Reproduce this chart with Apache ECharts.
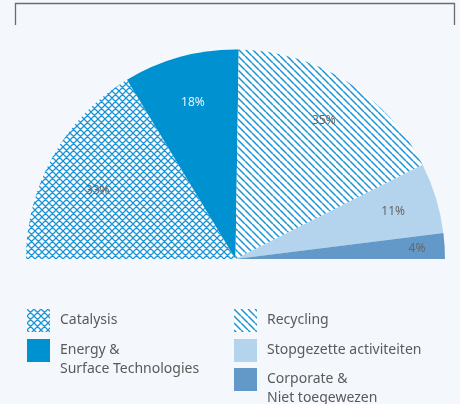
<!DOCTYPE html>
<html>
<head>
<meta charset="utf-8">
<script src="https://cdn.jsdelivr.net/npm/echarts@6/dist/echarts.min.js"></script>
<style>
html,body{margin:0;padding:0;background:#f4f8fd;}
#chart{width:460px;height:404px;}
</style>
</head>
<body>
<div id="chart"></div>
<script>
// ---- data ----
var categories = ['Catalysis', 'Energy & Surface Technologies', 'Recycling', 'Stopgezette activiteiten', 'Corporate & Niet toegewezen'];
var values = [33, 18, 35, 11, 4];
var legendLabels = ['Catalysis', 'Energy &\nSurface Technologies', 'Recycling', 'Stopgezette activiteiten', 'Corporate &\nNiet toegewezen'];

// ---- styles ----
var FONT = '"Noto Sans", "Open Sans", sans-serif';
var HATCH = '#1a94d6';

function makePattern(kind, s, lw) {
  var c = document.createElement('canvas');
  c.width = s; c.height = s;
  var g = c.getContext('2d');
  g.fillStyle = '#ffffff';
  g.fillRect(0, 0, s, s);
  g.strokeStyle = HATCH;
  g.lineWidth = lw;
  g.beginPath();
  for (var k = -s; k <= s; k += s) {
    if (kind === 'back' || kind === 'cross') { g.moveTo(k, 0); g.lineTo(k + s, s); }
    if (kind === 'cross') { g.moveTo(k, s); g.lineTo(k + s, 0); }
  }
  g.stroke();
  return { image: c, repeat: 'repeat' };
}

var colors = [makePattern('cross', 7, 1.3), '#0091d1', makePattern('back', 7, 1.5), '#b4d4ee', '#6399c9'];
var labelColors = ['#666666', '#e8f4fb', '#666666', '#666666', '#666666'];
var labelNudge = [[4, 11], [0, 1], [2, -1], [2, 0], [19, 0]];

var CX = 235.5, CY = 259, R = 209.5;

var mainData = categories.map(function (n, i) {
  return { name: n, value: values[i], itemStyle: { color: colors[i] } };
});
var labelData = categories.map(function (n, i) {
  return {
    name: n, value: values[i],
    label: { color: labelColors[i], offset: labelNudge[i] }
  };
});

// legend placement: [left, top] per item, multi-line items use an empty leading line
var legendPos = [[27, 309], [27, 322], [234, 309], [234, 339], [234, 351]];
var legends = categories.map(function (n, i) {
  var multi = legendLabels[i].indexOf('\n') >= 0;
  return {
    data: [n],
    left: legendPos[i][0],
    top: legendPos[i][1],
    orient: 'vertical',
    padding: 0,
    icon: 'rect',
    itemWidth: 23,
    itemHeight: 23,
    selectedMode: false,
    formatter: function () { return (multi ? '\n' : '') + legendLabels[i]; },
    textStyle: {
      fontFamily: FONT, fontSize: 14, color: '#5a5a5a',
      lineHeight: 19, padding: [0, 0, 0, 5]
    }
  };
});

var chart = echarts.init(document.getElementById('chart'), null, { renderer: 'canvas' });
chart.setOption({
  backgroundColor: '#f4f8fd',
  animation: false,
  legend: legends,
  graphic: [{
    type: 'polyline',
    shape: { points: [[15.5, 25], [15.5, 3.5], [454.5, 3.5], [454.5, 25]] },
    style: { stroke: '#6b6b6b', lineWidth: 1.3, fill: null },
    silent: true
  }],
  series: [{
    type: 'pie',
    center: [CX, CY],
    radius: [0, R],
    startAngle: 180,
    endAngle: 0,
    clockwise: true,
    silent: true,
    label: { show: false },
    labelLine: { show: false },
    itemStyle: { borderWidth: 0 },
    data: mainData
  }, {
    type: 'pie',
    center: [CX, CY],
    radius: [110, R],
    startAngle: 180,
    endAngle: 0,
    clockwise: true,
    silent: true,
    z: 5,
    itemStyle: { color: 'rgba(0,0,0,0)', borderWidth: 0 },
    label: {
      show: true, position: 'inside',
      fontFamily: FONT, fontSize: 12,
      formatter: function (p) { return p.value + '%'; }
    },
    labelLine: { show: false },
    data: labelData
  }]
});
</script>
</body>
</html>
